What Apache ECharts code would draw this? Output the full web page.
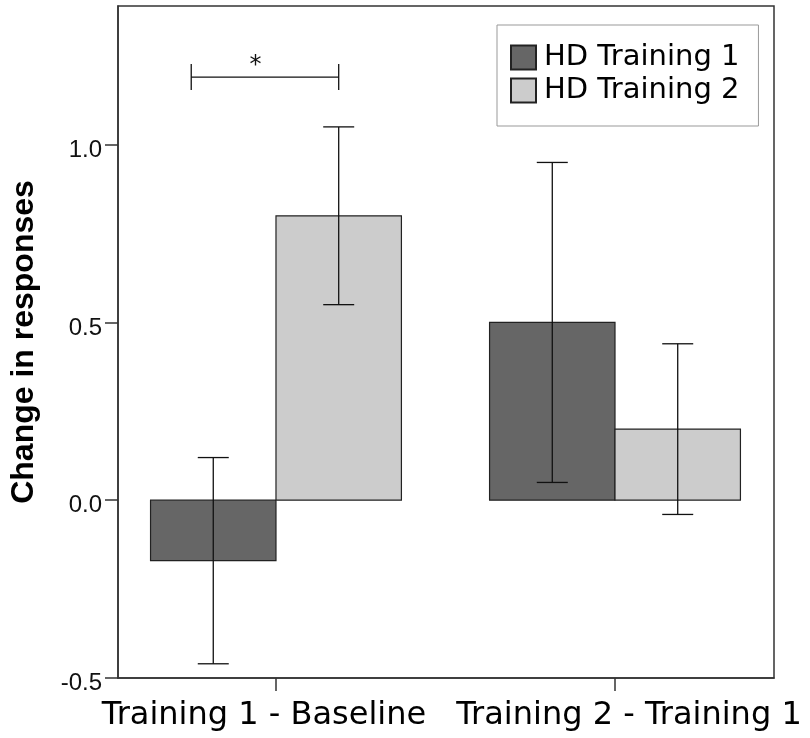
<!DOCTYPE html>
<html>
<head>
<meta charset="utf-8">
<script src="https://cdn.jsdelivr.net/npm/echarts@6/dist/echarts.min.js"></script>
<style>
  html, body { margin: 0; padding: 0; background: #fff; }
  #chart { width: 810px; height: 738px; }
</style>
</head>
<body>
<div id="chart"></div>
<script>
// ---- data ----
const categories = ['Training 1 - Baseline', 'Training 2 - Training 1'];
const seriesNames = ['HD Training 1', 'HD Training 2'];
const hd1Mean = [-0.17, 0.50];
const hd1Low  = [-0.46, 0.05];
const hd1High = [0.12, 0.95];
const hd2Mean = [0.80, 0.20];
const hd2Low  = [0.55, -0.04];
const hd2High = [1.05, 0.44];
const yTicks = [-0.5, 0.0, 0.5, 1.0];
const xTicks = [0, 1];
const sigBracketX = [-0.25, 0.185];
const sigBracketY = 1.19;
const sigLabel = '*';

// ---- style constants ----
const BAR_W = 0.37;          // bar width in category units
const CAP_PX = 15.5;         // half-width of error bar caps
const colors = ['#666666', '#cccccc'];

function makeData(mean, lo, hi) {
  return mean.map((m, i) => [i, m, lo[i], hi[i]]);
}

function barRenderer(offset) {
  return function (params, api) {
    const x = api.value(0) + offset;
    const base = api.coord([x, 0]);
    const top = api.coord([x, api.value(1)]);
    const lo = api.coord([x, api.value(2)]);
    const hi = api.coord([x, api.value(3)]);
    const w = api.size([BAR_W, 0])[0];
    const style = api.style();
    return {
      type: 'group',
      children: [
        {
          type: 'rect',
          shape: { x: base[0] - w / 2, y: Math.min(base[1], top[1]), width: w, height: Math.abs(base[1] - top[1]) },
          style: { fill: style.fill, stroke: '#222', lineWidth: 1.2 }
        },
        { type: 'line', shape: { x1: lo[0], y1: lo[1], x2: hi[0], y2: hi[1] }, style: { stroke: '#111', lineWidth: 1.3 } },
        { type: 'line', shape: { x1: lo[0] - CAP_PX, y1: lo[1], x2: lo[0] + CAP_PX, y2: lo[1] }, style: { stroke: '#111', lineWidth: 1.3 } },
        { type: 'line', shape: { x1: hi[0] - CAP_PX, y1: hi[1], x2: hi[0] + CAP_PX, y2: hi[1] }, style: { stroke: '#111', lineWidth: 1.3 } }
      ]
    };
  };
}

const chart = echarts.init(document.getElementById('chart'), null, { renderer: 'canvas' });

const option = {
  backgroundColor: '#ffffff',
  animation: false,
  grid: {
    left: 118, right: 36, top: 6, bottom: 60,
    show: true, borderColor: '#333', borderWidth: 1.5, backgroundColor: 'transparent'
  },
  legend: {
    orient: 'vertical',
    left: 497, top: 25,
    padding: [18, 19, 21, 13],
    borderColor: '#999', borderWidth: 1,
    itemWidth: 25, itemHeight: 24, itemGap: 4,
    icon: 'rect',
    textStyle: { fontFamily: 'DejaVu Sans', fontSize: 29, color: '#000', padding: [0, 0, 0, 3] },
    data: seriesNames
  },
  xAxis: {
    type: 'value',
    min: -0.466, max: 1.469,
    splitLine: { show: false },
    axisLine: { show: true, onZero: false, lineStyle: { color: '#333', width: 1.5 } },
    axisTick: { show: true, customValues: xTicks, length: 13, lineStyle: { color: '#333', width: 1.5 } },
    axisLabel: {
      customValues: xTicks,
      margin: 22,
      fontFamily: 'DejaVu Sans', fontSize: 32, color: '#000',
      formatter: function (v) {
        const i = Math.round(v);
        return i === 0 ? '{a|' + categories[i] + '}' : '{b|' + categories[i] + '}';
      },
      rich: {
        a: { fontFamily: 'DejaVu Sans', fontSize: 32, color: '#000', padding: [0, 24, 0, 0] },
        b: { fontFamily: 'DejaVu Sans', fontSize: 32, color: '#000', padding: [0, 0, 0, 28] }
      }
    }
  },
  yAxis: {
    type: 'value',
    min: -0.5, max: 1.39, interval: 0.5,
    name: 'Change in responses',
    nameLocation: 'middle',
    nameRotate: 90,
    nameGap: 78,
    nameTextStyle: { fontFamily: 'Liberation Sans', fontWeight: 'bold', fontSize: 32, color: '#000' },
    splitLine: { show: false },
    axisLine: { show: true, onZero: false, lineStyle: { color: '#333', width: 1.5 } },
    axisTick: { show: true, customValues: yTicks, length: 13, lineStyle: { color: '#333', width: 1.5 } },
    axisLabel: {
      customValues: yTicks,
      margin: 16,
      fontFamily: 'Liberation Sans', fontSize: 24, color: '#111',
      formatter: function (v) { return '{v|' + v.toFixed(1) + '}'; },
      rich: {
        v: { fontFamily: 'Liberation Sans', fontSize: 24, color: '#111', padding: [11, 0, 0, 0] }
      }
    }
  },
  series: [
    {
      name: seriesNames[0],
      type: 'custom',
      itemStyle: { color: colors[0], borderColor: '#222', borderWidth: 1.2 },
      renderItem: barRenderer(-BAR_W / 2),
      encode: { x: 0, y: [1, 2, 3] },
      data: makeData(hd1Mean, hd1Low, hd1High),
      z: 2
    },
    {
      name: seriesNames[1],
      type: 'custom',
      itemStyle: { color: colors[1], borderColor: '#222', borderWidth: 1.2 },
      renderItem: barRenderer(BAR_W / 2),
      encode: { x: 0, y: [1, 2, 3] },
      data: makeData(hd2Mean, hd2Low, hd2High),
      z: 2
    },
    {
      name: 'significance',
      type: 'custom',
      silent: true,
      renderItem: function (params, api) {
        const a = api.coord([api.value(0), api.value(2)]);
        const b = api.coord([api.value(1), api.value(2)]);
        const mid = api.coord([(api.value(0) + api.value(1)) / 2 - 0.028, api.value(2)]);
        const s = { stroke: '#111', lineWidth: 1.3 };
        return {
          type: 'group',
          children: [
            { type: 'line', shape: { x1: a[0], y1: a[1], x2: b[0], y2: b[1] }, style: s },
            { type: 'line', shape: { x1: a[0], y1: a[1] - 13, x2: a[0], y2: a[1] + 13 }, style: s },
            { type: 'line', shape: { x1: b[0], y1: b[1] - 13, x2: b[0], y2: b[1] + 13 }, style: s },
            { type: 'text', x: mid[0], y: mid[1] - 11,
              style: { text: sigLabel, fill: '#111', font: '24px "DejaVu Sans"', align: 'center', verticalAlign: 'middle' } }
          ]
        };
      },
      data: [[sigBracketX[0], sigBracketX[1], sigBracketY]],
      z: 3
    }
  ]
};

chart.setOption(option);
</script>
</body>
</html>
